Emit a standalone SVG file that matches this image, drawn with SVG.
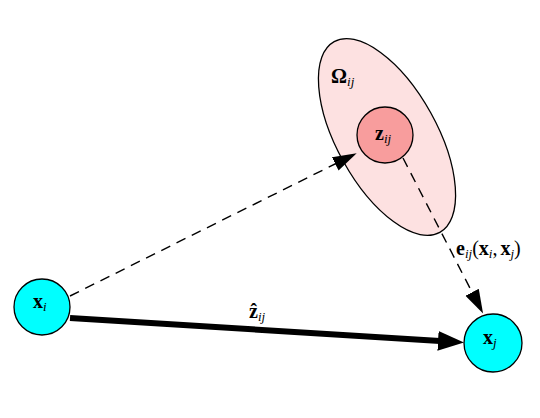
<svg xmlns="http://www.w3.org/2000/svg" width="540" height="418" viewBox="0 0 540 418">
<defs>
<style>
.node{stroke:#000;stroke-width:1.3}
.cyan{fill:#00ffff}
.t{font-family:"Liberation Serif","DejaVu Serif",serif;font-size:20px;font-weight:bold;fill:#000}
.s{font-family:"Liberation Serif","DejaVu Serif",serif;font-size:13px;font-style:italic;font-weight:normal}
.r{font-weight:normal}
.dash{fill:none;stroke:#000;stroke-width:1.4;stroke-dasharray:10 7}
.thick{fill:none;stroke:#000;stroke-width:6}
</style>
<marker id="hd" markerUnits="userSpaceOnUse" markerWidth="26" markerHeight="16" refX="2" refY="7.5" orient="auto" viewBox="0 0 26 15">
<path d="M0,0 L24,7.5 L0,15 z" fill="#000"/>
</marker>
<marker id="hb" markerUnits="userSpaceOnUse" markerWidth="28" markerHeight="22" refX="2" refY="10" orient="auto" viewBox="0 0 28 20">
<path d="M0,0 L26,10 L0,20 z" fill="#000"/>
</marker>
</defs>
<rect width="540" height="418" fill="#fff"/>
<g id="omega">
<ellipse cx="387" cy="137" rx="109" ry="50" transform="rotate(61 387 137)" fill="#fde1e1" class="node"/>
<text x="331" y="83" class="t">Ω<tspan class="s" dy="3">ij</tspan></text>
</g>
<g id="zij">
<circle cx="385" cy="135" r="28" fill="#f89d9d" class="node"/>
<text x="375" y="140" class="t">z<tspan class="s" dy="3">ij</tspan></text>
</g>
<g id="xi">
<circle cx="42" cy="307" r="28" class="node cyan"/>
<text x="33" y="308" class="t">x<tspan class="s" dy="3">i</tspan></text>
</g>
<g id="xj">
<circle cx="493" cy="343" r="29" class="node cyan"/>
<text x="483" y="344" class="t">x<tspan class="s" dy="3">j</tspan></text>
</g>
<g id="connectors">
<line x1="70" y1="296" x2="337" y2="163" class="dash" marker-end="url(#hd)"/>
<line x1="403" y1="158" x2="473" y2="294" class="dash" marker-end="url(#hd)"/>
<line x1="70" y1="318" x2="440" y2="341" class="thick" marker-end="url(#hb)"/>
<text x="249" y="318" class="t">ẑ<tspan class="s" dy="3">ij</tspan></text>
<text x="456" y="255" class="t">e<tspan class="s" dy="3">ij</tspan><tspan class="r" dy="-3">(</tspan>x<tspan class="s" dy="3">i</tspan><tspan class="r" dy="-3">,</tspan><tspan dx="3">x</tspan><tspan class="s" dy="3">j</tspan><tspan class="r" dy="-3">)</tspan></text>
</g>
</svg>
